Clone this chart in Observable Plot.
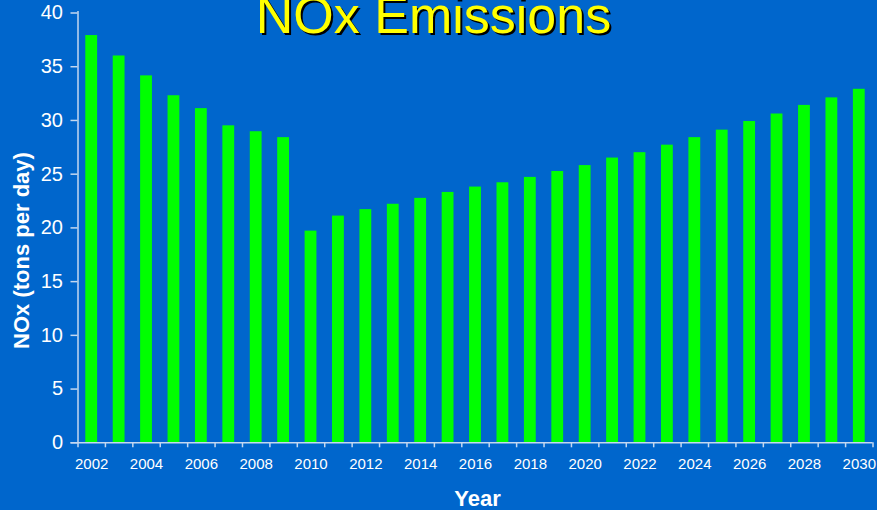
<!DOCTYPE html>
<html>
<head>
<meta charset="utf-8">
<script src="https://cdn.jsdelivr.net/npm/d3@7"></script>
<script src="https://cdn.jsdelivr.net/npm/@observablehq/plot@0.6"></script>
<style>
  html, body { margin: 0; padding: 0; background: #0066cc; }
  #chart svg { display: block; }
</style>
</head>
<body>
<div id="chart"></div>
<script>
const title = "NOx Emissions";
const yLabel = "NOx (tons per day)";
const xLabel = "Year";
const years = d3.range(2002, 2031);
const values = [37.9, 36.0, 34.15, 32.3, 31.1, 29.5, 28.95, 28.4, 19.7, 21.1, 21.7, 22.2, 22.75, 23.3, 23.8, 24.2, 24.7, 25.25, 25.8, 26.5, 27.0, 27.7, 28.4, 29.1, 29.9, 30.6, 31.4, 32.1, 32.9];
const xTickLabels = [2002, 2004, 2006, 2008, 2010, 2012, 2014, 2016, 2018, 2020, 2022, 2024, 2026, 2028, 2030];
const yTicks = [0, 5, 10, 15, 20, 25, 30, 35, 40];

const data = years.map((year, i) => ({year, value: values[i]}));
const bandEdges = years.map(y => y - 0.5).concat([years[years.length - 1] + 0.5]);

const font = "'Liberation Sans', Arial, Helvetica, sans-serif";
const axisColor = "#c4d8f0";

const chart = Plot.plot({
  width: 877,
  height: 510,
  marginLeft: 77.5,
  marginRight: 4.5,
  marginTop: 12.5,
  marginBottom: 67.7,
  style: {background: "#0066cc", fontFamily: font, color: "#ffffff"},
  x: {type: "linear", domain: [bandEdges[0], bandEdges[bandEdges.length - 1]], axis: null},
  y: {type: "linear", domain: [0, 40], axis: null},
  marks: [
    Plot.rectY(data, {
      x1: d => d.year - 0.5, x2: d => d.year + 0.5, y: "value",
      fill: "#00ff00", insetLeft: 7.8, insetRight: 7.8
    }),
    Plot.ruleY([0], {stroke: axisColor, strokeWidth: 1.5, insetLeft: -7}),
    Plot.ruleX([bandEdges[0]], {stroke: axisColor, strokeWidth: 1.5, insetTop: -1.5}),
    Plot.axisX(bandEdges, {tickSize: 5, text: null, stroke: axisColor, strokeWidth: 1.5, label: null}),
    Plot.axisX(xTickLabels, {tickSize: 0, tickPadding: 15.5, fontSize: 15, fill: "#ffffff", label: null, tickFormat: d => String(d)}),
    Plot.axisY(yTicks, {tickSize: 7, tickPadding: 8, fontSize: 20, fill: "#ffffff", stroke: axisColor, strokeWidth: 1.5, label: null}),
    Plot.text([yLabel], {
      frameAnchor: "left", rotate: -90, dx: -56.5, dy: 22.6,
      fontSize: 22, fontWeight: "bold", fill: "#ffffff", textAnchor: "middle", lineAnchor: "middle"
    }),
    Plot.text([xLabel], {
      frameAnchor: "bottom", dx: 2, dy: 62.7,
      fontSize: 22, fontWeight: "bold", fill: "#ffffff", lineAnchor: "bottom"
    }),
    Plot.text([title], {
      frameAnchor: "top", dx: -40, dy: 21.5,
      fontSize: 52, fill: "#000000", lineAnchor: "bottom"
    }),
    Plot.text([title], {
      frameAnchor: "top", dx: -42, dy: 19.5,
      fontSize: 52, fill: "#ffff00", lineAnchor: "bottom"
    })
  ]
});
document.getElementById("chart").appendChild(chart);
</script>
</body>
</html>
